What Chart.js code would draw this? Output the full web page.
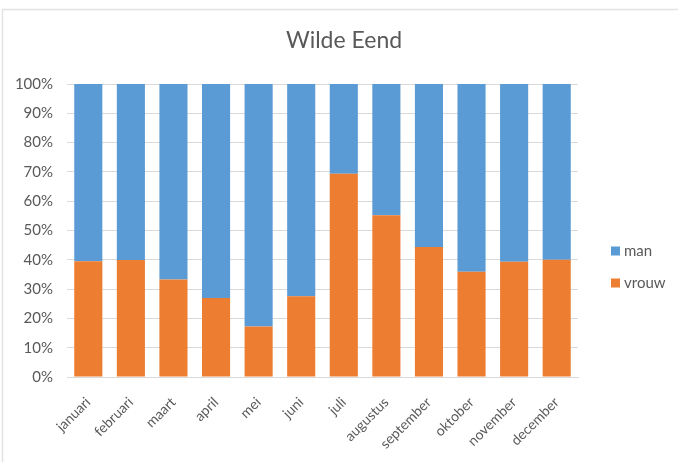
<!DOCTYPE html>
<html>
<head>
<meta charset="utf-8">
<script src="https://cdn.jsdelivr.net/npm/chart.js@4/dist/chart.umd.min.js"></script>
<style>
  html, body { margin: 0; padding: 0; background: #ffffff; }
  #wrap { width: 678px; height: 462px; position: relative; }
</style>
</head>
<body>
<div id="wrap"><canvas id="chart" width="678" height="462"></canvas></div>
<script>
// Maandelijkse verdeling man/vrouw (in procenten)
const months = ['januari', 'februari', 'maart', 'april', 'mei', 'juni',
                'juli', 'augustus', 'september', 'oktober', 'november', 'december'];
const vrouw = [39.5, 39.9, 33.3, 27.0, 17.2, 27.6, 69.4, 55.2, 44.4, 35.9, 39.3, 40.0];
const man   = [60.5, 60.1, 66.7, 73.0, 82.8, 72.4, 30.6, 44.8, 55.6, 64.1, 60.7, 60.0];
const yTicks = [0, 10, 20, 30, 40, 50, 60, 70, 80, 90, 100];
const chartTitle = 'Wilde Eend';

const textColor = '#595959';
const gridColor = '#d9d9d9';
const fontFamily = 'Lato, "Liberation Sans", sans-serif';

// Achtergrond en rand rondom de grafiek
const framePlugin = {
  id: 'frame',
  beforeDraw(chart) {
    const ctx = chart.ctx;
    ctx.save();
    ctx.fillStyle = '#ffffff';
    ctx.fillRect(0, 0, chart.width, chart.height);
    ctx.strokeStyle = '#e3e3e3';
    ctx.lineWidth = 1.5;
    ctx.beginPath();
    ctx.moveTo(2.5, chart.height);
    ctx.lineTo(2.5, 9.5);
    ctx.lineTo(chart.width, 9.5);
    ctx.stroke();
    ctx.restore();
  }
};

// Titel, gecentreerd over de hele breedte
const titlePlugin = {
  id: 'centerTitle',
  afterDraw(chart) {
    const ctx = chart.ctx;
    ctx.save();
    ctx.font = '23px ' + fontFamily;
    ctx.fillStyle = textColor;
    ctx.textAlign = 'center';
    ctx.textBaseline = 'middle';
    ctx.fillText(chartTitle, 344, 41);
    ctx.restore();
  }
};

// Legenda rechts van het grafiekgebied, bovenste reeks eerst
const sideLegend = {
  id: 'sideLegend',
  afterDraw(chart) {
    const ctx = chart.ctx;
    const items = chart.data.datasets.slice().reverse();
    const x = 611, y0 = 251, step = 32, box = 9;
    ctx.save();
    ctx.font = '15px ' + fontFamily;
    ctx.textBaseline = 'middle';
    ctx.textAlign = 'left';
    items.forEach((ds, i) => {
      const y = y0 + i * step;
      ctx.fillStyle = ds.backgroundColor;
      ctx.fillRect(x, y - box / 2, box, box);
      ctx.fillStyle = textColor;
      ctx.fillText(ds.label, x + 13, y);
    });
    ctx.restore();
  }
};

new Chart(document.getElementById('chart'), {
  type: 'bar',
  data: {
    labels: months,
    datasets: [
      { label: 'vrouw', data: vrouw, backgroundColor: '#ED7D31', borderWidth: 0 },
      { label: 'man', data: man, backgroundColor: '#5B9BD5', borderWidth: 0 }
    ]
  },
  options: {
    responsive: false,
    animation: false,
    layout: { padding: { left: 0, right: 100, top: 84, bottom: 0 } },
    datasets: { bar: { categoryPercentage: 1.0, barPercentage: 0.66 } },
    plugins: {
      legend: { display: false },
      tooltip: { enabled: false },
      title: { display: false }
    },
    scales: {
      x: {
        stacked: true,
        grid: { display: false },
        border: { display: true, color: gridColor, width: 1 },
        ticks: {
          color: textColor,
          font: { family: fontFamily, size: 14 },
          minRotation: 45, maxRotation: 45,
          labelOffset: 0,
          padding: 9
        },
        afterFit(scale) { scale.height = 85; }
      },
      y: {
        stacked: true,
        min: 0, max: 100,
        afterBuildTicks(scale) { scale.ticks = yTicks.map(v => ({ value: v })); },
        grid: { color: gridColor, lineWidth: 1, drawTicks: false },
        border: { display: false },
        ticks: {
          color: textColor,
          font: { family: fontFamily, size: 15 },
          padding: 14,
          callback: v => v + '%'
        },
        afterFit(scale) { scale.width = 67; }
      }
    }
  },
  plugins: [framePlugin, titlePlugin, sideLegend]
});
</script>
</body>
</html>
